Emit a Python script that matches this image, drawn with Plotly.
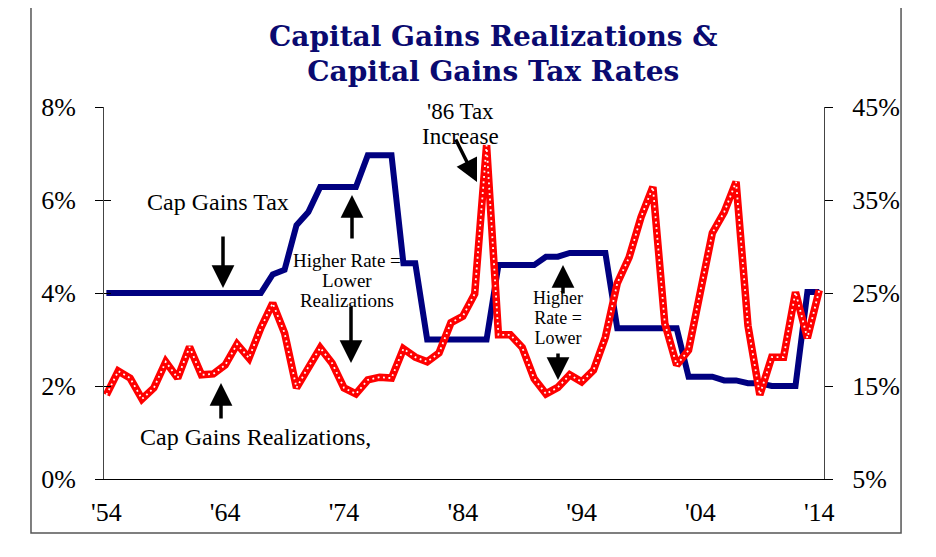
import plotly.graph_objects as go

# chart data
years = list(range(1954, 2015))

# capital gains realizations, % of GDP (left axis)
realizations = [
    1.81, 2.32, 2.17, 1.72, 1.96, 2.52, 2.17, 2.84, 2.24, 2.26,   # 1954-63
    2.45, 2.90, 2.60, 3.25, 3.78, 3.14, 1.96, 2.41, 2.82, 2.49,   # 1964-73
    1.96, 1.83, 2.13, 2.19, 2.17, 2.80, 2.62, 2.52, 2.71, 3.36,   # 1974-83
    3.50, 3.98, 7.18, 3.10, 3.10, 2.83, 2.16, 1.83, 1.97, 2.24,   # 1984-93
    2.09, 2.34, 3.05, 4.21, 4.77, 5.63, 6.28, 3.35, 2.45, 2.77,   # 1994-03
    4.05, 5.29, 5.74, 6.39, 3.30, 1.81, 2.62, 2.62, 4.02, 3.03,   # 2004-13
    4.06,                                                         # 2014
]

# top capital gains tax rate, % (right axis)
tax_rate = [
    25.0, 25.0, 25.0, 25.0, 25.0, 25.0, 25.0, 25.0, 25.0, 25.0,   # 1954-63
    25.0, 25.0, 25.0, 25.0, 27.0, 27.5, 32.3, 33.7, 36.4, 36.4,   # 1964-73
    36.4, 36.4, 39.8, 39.8, 39.8, 28.2, 28.2, 20.0, 20.0, 20.0,   # 1974-83
    20.0, 20.0, 20.0, 28.0, 28.0, 28.0, 28.0, 28.9, 28.9, 29.3,   # 1984-93
    29.3, 29.3, 29.3, 21.2, 21.2, 21.2, 21.2, 21.2, 21.2, 16.0,   # 1994-03
    16.0, 16.0, 15.6, 15.6, 15.3, 15.3, 15.0, 15.0, 15.0, 25.1,   # 2004-13
    25.1,                                                         # 2014
]

x_ticks = [1954, 1964, 1974, 1984, 1994, 2004, 2014]
x_labels = ["'54", "'64", "'74", "'84", "'94", "'04", "'14"]
left_ticks = [0, 2, 4, 6, 8]
left_labels = ["0%", "2%", "4%", "6%", "8%"]
right_ticks = [5, 15, 25, 35, 45]
right_labels = ["5%", "15%", "25%", "35%", "45%"]

SERIF = "Liberation Serif"
NAVY = "#000080"

fig = go.Figure()

# invisible trace so the left axis gets drawn
fig.add_trace(go.Scatter(x=years, y=realizations, yaxis="y", mode="lines",
                         line=dict(color="rgba(0,0,0,0)", width=0), hoverinfo="skip"))
fig.add_trace(go.Scatter(x=years, y=tax_rate, yaxis="y2", mode="lines",
                         line=dict(color=NAVY, width=6), hoverinfo="skip"))
fig.add_trace(go.Scatter(x=years, y=realizations, yaxis="y3", mode="lines",
                         line=dict(color="#FF0000", width=7.5), hoverinfo="skip"))
fig.add_trace(go.Scatter(x=years, y=realizations, yaxis="y3", mode="lines",
                         line=dict(color="white", width=1.8, dash="1.8px,3.6px"),
                         hoverinfo="skip"))

axis_font = dict(family=SERIF, size=26, color="black")

# the page body has an 8px margin, so the margins are shifted by 8px
fig.update_layout(
    width=936, height=557,
    margin=dict(l=96, r=120, t=99, b=86),
    paper_bgcolor="white", plot_bgcolor="white",
    showlegend=False,
    xaxis=dict(range=[1953.8, 2014.4], tickvals=x_ticks, ticktext=x_labels,
               ticks="", showline=True, linecolor="black", linewidth=1.2,
               showgrid=False, zeroline=False, tickfont=axis_font,
               ticklabelstandoff=10),
    yaxis=dict(range=[0, 8], tickvals=left_ticks, ticktext=left_labels,
               ticks="outside", ticklen=8, tickcolor="black", showline=True,
               linecolor="#444", linewidth=1, showgrid=False, zeroline=False,
               tickfont=axis_font, ticklabelstandoff=14),
    yaxis2=dict(range=[5, 45], tickvals=right_ticks, ticktext=right_labels,
                overlaying="y", side="right", anchor="x",
                ticks="outside", ticklen=8, tickcolor="black", showline=True,
                linecolor="#444", linewidth=1, showgrid=False, zeroline=False,
                tickfont=axis_font, ticklabelstandoff=14),
    yaxis3=dict(range=[0, 8], tickvals=left_ticks, overlaying="y", side="left",
                anchor="x", ticks="inside", ticklen=7, tickcolor="black",
                showticklabels=False, showline=False, showgrid=False,
                zeroline=False),
    yaxis4=dict(range=[5, 45], tickvals=right_ticks, overlaying="y", side="right",
                anchor="x", ticks="inside", ticklen=7, tickcolor="black",
                showticklabels=False, showline=False, showgrid=False,
                zeroline=False),
)

# outer frame
fig.add_shape(type="rect", xref="paper", yref="paper",
              x0=-0.1014, x1=1.107, y0=-0.145, y1=1.277,
              line=dict(color="#555", width=1.5))


def px_x(px):
    return (px - 104) / 720


def px_y(py):
    return (479 - py) / 372


def tight(lines, size, spacing):
    # the line spacing follows the base font size (1.3em), the glyphs use `size`
    text = "<br>".join(f"<span style='font-size:{size}px'>{t}</span>" for t in lines)
    return text, spacing / 1.3


# title, two lines with tight leading
title_text, title_base = tight(["<b>Capital Gains Realizations &</b>",
                                "<b>Capital Gains Tax Rates</b>"], 28, 35)
fig.add_annotation(text=title_text, xref="paper", yref="paper",
                   x=px_x(493), y=px_y(54), xanchor="center", yanchor="middle",
                   showarrow=False,
                   font=dict(family="DejaVu Serif", size=title_base, color="#0A0A70"))

# text labels: (lines, centre x px, centre y px, size, line spacing px)
labels = [
    (["Cap Gains Tax"], 218, 202, 24, 30),
    (["Higher Rate =", "Lower", "Realizations"], 347, 280, 19, 20),
    (["'86 Tax", "Increase"], 460, 124, 23, 25),
    (["Higher", "Rate =", "Lower"], 558, 318, 18, 20),
    (["Cap Gains Realizations,"], 255, 437, 24, 30),
]
for lines, cx, cy, size, spacing in labels:
    text, base = tight(lines, size, spacing)
    fig.add_annotation(text=text, xref="paper", yref="paper", x=px_x(cx), y=px_y(cy),
                       xanchor="center", yanchor="middle", showarrow=False,
                       font=dict(family=SERIF, size=base, color="black"))

# arrows: head (x, y) and tail (x, y) in pixels
arrows = [
    ((223, 288), (223, 235)),
    ((352, 195), (352, 240)),
    ((351, 363), (351, 305)),
    ((477, 182), (455, 138)),
    ((563, 265), (563, 295)),
    ((558, 380), (558, 352)),
    ((221, 383), (221, 420)),
]
for (hx, hy), (tx, ty) in arrows:
    fig.add_annotation(text="", xref="paper", yref="paper", x=px_x(hx), y=px_y(hy),
                       ax=tx - hx, ay=ty - hy, showarrow=True, arrowhead=2,
                       arrowsize=1.3, arrowwidth=3.5, arrowcolor="black")

fig.write_html("out.html")
